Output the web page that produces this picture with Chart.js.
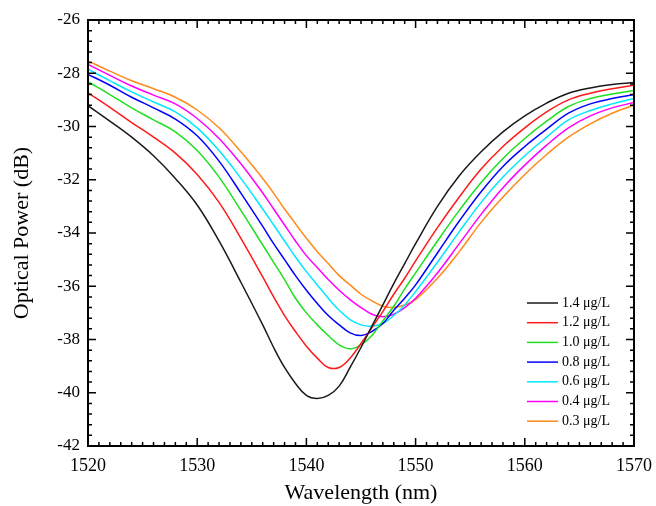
<!DOCTYPE html>
<html>
<head>
<meta charset="utf-8">
<script src="https://cdn.jsdelivr.net/npm/chart.js@4.4.1/dist/chart.umd.min.js"></script>
<style>
  body { margin: 0; background: #fff; }
</style>
</head>
<body>
<canvas id="myChart" width="656" height="506"></canvas>
<script>
// Datos (paso de 1 nm cerca de los minimos)
const wavelength = [1520, 1522, 1524, 1526, 1528, 1530, 1532, 1534, 1536, 1537, 1538, 1539, 1540, 1541, 1542,
                    1543, 1544, 1545, 1546, 1547, 1548, 1549, 1550, 1552, 1554, 1556, 1558, 1560, 1562,
                    1564, 1566, 1568, 1570];

const conc = ["1.4 μg/L", "1.2 μg/L", "1.0 μg/L", "0.8 μg/L", "0.6 μg/L", "0.4 μg/L", "0.3 μg/L"];

const p14 = [-29.22, -29.8, -30.4, -31.1, -31.95, -32.95, -34.3, -35.85, -37.45, -38.3, -39.05, -39.65, -40.1, -40.22, -40.1,
             -39.75, -39.05, -38.3, -37.5, -36.7, -35.9, -35.15, -34.4, -33.0, -31.85, -30.95, -30.2, -29.6, -29.12,
             -28.75, -28.55, -28.42, -28.35];
const p12 = [-28.74, -29.28, -29.85, -30.4, -31.0, -31.8, -32.85, -34.2, -35.65, -36.4, -37.1, -37.7, -38.25, -38.7, -39.05,
             -39.05, -38.7, -38.15, -37.55, -36.95, -36.3, -35.7, -35.05, -33.8, -32.65, -31.6, -30.75, -30.05, -29.45,
             -29.0, -28.75, -28.58, -28.45];
const p10 = [-28.32, -28.8, -29.3, -29.75, -30.2, -30.9, -31.9, -33.15, -34.45, -35.1, -35.75, -36.45, -37.0, -37.45, -37.85,
             -38.2, -38.35, -38.2, -37.85, -37.3, -36.75, -36.1, -35.5, -34.3, -33.15, -32.1, -31.2, -30.45, -29.8,
             -29.25, -28.95, -28.78, -28.65];
const p08 = [-28.04, -28.45, -28.9, -29.3, -29.72, -30.35, -31.3, -32.5, -33.75, -34.4, -35.0, -35.6, -36.15, -36.65, -37.1,
             -37.45, -37.75, -37.85, -37.7, -37.4, -36.9, -36.45, -35.95, -34.75, -33.55, -32.45, -31.5, -30.75, -30.1,
             -29.5, -29.15, -28.95, -28.8];
const p06 = [-27.85, -28.28, -28.7, -29.08, -29.45, -30.05, -30.9, -31.95, -33.1, -33.7, -34.3, -34.9, -35.45, -35.95, -36.45,
             -36.9, -37.25, -37.45, -37.5, -37.4, -37.1, -36.7, -36.2, -35.1, -33.95, -32.85, -31.9, -31.1, -30.4,
             -29.75, -29.4, -29.15, -28.95];
const p04 = [-27.67, -28.08, -28.48, -28.82, -29.15, -29.7, -30.45, -31.4, -32.5, -33.1, -33.7, -34.3, -34.85, -35.3, -35.75,
             -36.15, -36.5, -36.8, -37.05, -37.15, -37.05, -36.8, -36.45, -35.5, -34.4, -33.3, -32.3, -31.45, -30.7,
             -30.05, -29.6, -29.3, -29.1];
const p03 = [-27.54, -27.92, -28.28, -28.58, -28.9, -29.38, -30.05, -30.95, -31.95, -32.5, -33.1, -33.65, -34.2, -34.7, -35.15,
             -35.6, -35.95, -36.3, -36.55, -36.75, -36.8, -36.7, -36.5, -35.7, -34.7, -33.6, -32.65, -31.8, -31.05,
             -30.4, -29.9, -29.5, -29.2];

const series = [p14, p12, p10, p08, p06, p04, p03];
const colores = ["#1a1a1a", "#ff1a1a", "#1ee01e", "#0000ff", "#00e8ff", "#ff00ff", "#ff8a1a"];

const serif = '"Liberation Serif", "Times New Roman", serif';

// Marco con marcas hacia dentro en los cuatro lados
const marco = {
    id: 'marco',
    afterDatasetsDraw(chart) {
        const ctx = chart.ctx;
        const a = chart.chartArea;
        const x = chart.scales.x;
        const y = chart.scales.y;
        ctx.save();
        ctx.strokeStyle = '#000';
        ctx.lineWidth = 2;
        ctx.strokeRect(a.left, a.top, a.right - a.left, a.bottom - a.top);
        ctx.lineWidth = 1.5;
        ctx.beginPath();
        for (let i = 0; i <= 50; i++) {
            const px = x.getPixelForValue(x.min + i);
            const len = (i % 10 === 0) ? 8 : 4;
            ctx.moveTo(px, a.bottom); ctx.lineTo(px, a.bottom - len);
            ctx.moveTo(px, a.top); ctx.lineTo(px, a.top + len);
        }
        for (let i = 0; i <= 40; i++) {
            const py = y.getPixelForValue(y.min + i * 0.4);
            const len = (i % 5 === 0) ? 8 : 4;
            ctx.moveTo(a.left, py); ctx.lineTo(a.left + len, py);
            ctx.moveTo(a.right, py); ctx.lineTo(a.right - len, py);
        }
        ctx.stroke();
        ctx.restore();
    }
};

// Leyenda dentro del area del grafico
const leyenda = {
    id: 'leyenda',
    afterDatasetsDraw(chart) {
        const ctx = chart.ctx;
        const a = chart.chartArea;
        ctx.save();
        ctx.font = '14px ' + serif;
        ctx.textBaseline = 'middle';
        chart.data.datasets.forEach((ds, i) => {
            const yy = a.top + 283 + i * 19.7;
            ctx.strokeStyle = ds.borderColor;
            ctx.lineWidth = 1.5;
            ctx.beginPath();
            ctx.moveTo(a.right - 107, yy);
            ctx.lineTo(a.right - 76, yy);
            ctx.stroke();
            ctx.fillStyle = '#000';
            ctx.fillText(ds.label, a.right - 72, yy);
        });
        ctx.restore();
    }
};

let ctx = document.getElementById('myChart');

let myChart = new Chart(ctx, {
    type: 'line',
    data: {
        datasets: series.map((vals, i) => ({
            label: conc[i],
            data: wavelength.map((w, j) => ({ x: w, y: vals[j] })),
            borderColor: colores[i],
            borderWidth: 1.5,
            pointRadius: 0,
            tension: 0.4,
            fill: false
        }))
    },
    options: {
        responsive: false,
        animation: false,
        layout: { padding: { top: 20, right: 22, left: 0, bottom: 0 } },
        plugins: {
            legend: { display: false },
            tooltip: { enabled: false }
        },
        scales: {
            x: {
                type: 'linear',
                min: 1520,
                max: 1570,
                ticks: {
                    stepSize: 10,
                    color: '#000',
                    font: { family: serif, size: 18 },
                    padding: 9,
                    callback: v => String(v)
                },
                grid: { display: false, drawTicks: false },
                border: { display: false },
                title: {
                    display: true,
                    text: 'Wavelength (nm)',
                    color: '#000',
                    font: { family: serif, size: 22 },
                    padding: { top: 0, bottom: 0 }
                },
                afterFit(s) {
                    s.height = 60;
                    s.paddingLeft = 0;
                    s.paddingRight = 0;
                }
            },
            y: {
                min: -42,
                max: -26,
                ticks: { stepSize: 2, color: '#000', font: { family: serif, size: 17 }, padding: 8 },
                grid: { display: false, drawTicks: false },
                border: { display: false },
                title: {
                    display: true,
                    text: 'Optical Power (dB)',
                    color: '#000',
                    font: { family: serif, size: 22 },
                    padding: { top: 9, bottom: 0 }
                },
                afterFit(s) {
                    s.width = 88;
                    s.paddingTop = 0;
                    s.paddingBottom = 0;
                }
            }
        }
    },
    plugins: [marco, leyenda]
});
</script>
</body>
</html>
